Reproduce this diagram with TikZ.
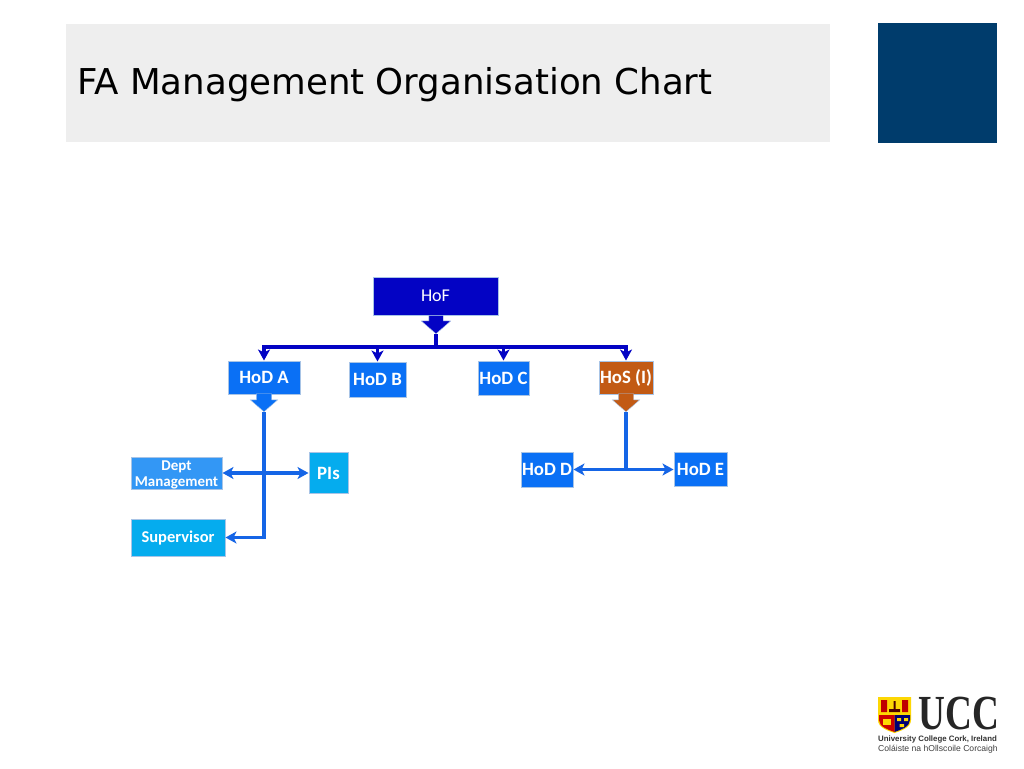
\documentclass[tikz,border=0pt]{standalone}
\usepackage{fontspec}
\setmainfont{DejaVu Sans}
\newfontfamily\boxfont{Carlito}
\newfontfamily\logofont{Liberation Sans}
\newfontfamily\crestfont{Liberation Serif}
\usetikzlibrary{arrows.meta,shapes.arrows}
\definecolor{titlegrey}{HTML}{EEEEEE}
\definecolor{cornerblue}{HTML}{003C6C}
\definecolor{hofblue}{HTML}{0303C4}
\definecolor{hodblue}{HTML}{0A70F5}
\definecolor{deptblue}{HTML}{3397F5}
\definecolor{piblue}{HTML}{05ACEE}
\definecolor{hosbrown}{HTML}{C25A14}
\definecolor{linkblue}{HTML}{1565E6}
\definecolor{boxedge}{HTML}{A8C4E6}
\tikzset{
	orgbox/.style={draw=boxedge, line width=1pt, text=white, inner sep=0pt, font=\boxfont\bfseries\fontsize{18.8}{20}\selectfont},
	stubarrow/.style={single arrow, shape border rotate=270, draw=boxedge, line width=0.4pt, inner sep=0pt, minimum height=18pt, single arrow head extend=6pt, single arrow tip angle=98},
	busline/.style={draw=hofblue, line width=3.2pt},
	linkline/.style={draw=linkblue, line width=3.2pt},
	bustip/.style={-{Stealth[length=11pt,width=12pt,inset=3pt]}},
	linktip/.style={-{Stealth[length=11pt,width=12pt,inset=3pt]}},
}
\begin{document}
\begin{tikzpicture}[x=1pt,y=-1pt]
	\useasboundingbox (0,0) rectangle (1024,768);
	\fill[white] (0,0) rectangle (1024,768);
	% header
	\fill[titlegrey] (66,24) rectangle (830,142);
	\fill[cornerblue] (878,23) rectangle (997,143);
	\node[anchor=base west, inner sep=0pt, font=\fontsize{35.6}{38}\selectfont, text=black] (title) at (77,94.5) {FA Management Organisation Chart};
	% boxes
	\node[orgbox, fill=hofblue, minimum width=125pt, minimum height=38pt, font=\boxfont\fontsize{18}{20}\selectfont] (hof) at (435.5,296) {HoF};
	\node[orgbox, fill=hodblue, minimum width=72pt, minimum height=33pt] (hodA) at (264,377.5) {HoD A};
	\node[orgbox, fill=hodblue, minimum width=57pt, minimum height=35pt] (hodB) at (377.5,379.5) {HoD B};
	\node[orgbox, fill=hodblue, minimum width=51pt, minimum height=34pt] (hodC) at (503.5,378) {HoD C};
	\node[orgbox, fill=hosbrown, minimum width=54pt, minimum height=33pt] (hos) at (626,377.5) {HoS (I)};
	\node[orgbox, fill=deptblue, minimum width=91pt, minimum height=32pt, align=center, text height=29pt, text depth=3pt, font=\boxfont\bfseries\fontsize{15}{16}\selectfont] (dept) at (176.5,473) {Dept\\Management};
	\node[orgbox, fill=piblue, minimum width=39pt, minimum height=41pt] (pis) at (328.5,473) {PIs};
	\node[orgbox, fill=piblue, minimum width=94pt, minimum height=37pt, font=\boxfont\bfseries\fontsize{16.5}{18}\selectfont] (sup) at (178,537.5) {Supervisor};
	\node[orgbox, fill=hodblue, minimum width=52pt, minimum height=35pt] (hodD) at (547,469.5) {HoD D};
	\node[orgbox, fill=hodblue, minimum width=53pt, minimum height=34pt] (hodE) at (700.5,469.5) {HoD E};
	% block arrows
	\node[stubarrow, fill=hofblue, anchor=tip, single arrow head extend=7.5pt] (hofarrow) at (436,334) {\rule{14pt}{0pt}};
	\node[stubarrow, fill=hodblue, anchor=tip] (hodAarrow) at (264,412) {\rule{15pt}{0pt}};
	\node[stubarrow, fill=hosbrown, anchor=tip] (hosarrow) at (626,412) {\rule{15pt}{0pt}};
	% junctions
	\coordinate (bus) at (436,347);
	\coordinate (fork) at (626,469.5);
	% connectors
	\draw[busline] (hofarrow.tip) -- (bus);
	\draw[busline, bustip] (bus) -| (hodA.north);
	\draw[busline, bustip] (bus) -| (hodB.north);
	\draw[busline, bustip] (bus) -| (hodC.north);
	\draw[busline, bustip] (bus) -| (hos.north);
	\draw[linkline, linktip] (hodAarrow.tip) |- (sup.east);
	\draw[linkline, {Stealth[length=11pt,width=12pt,inset=3pt]}-{Stealth[length=11pt,width=12pt,inset=3pt]}] (dept.east) -- (pis.west);
	\draw[linkline] (hosarrow.tip) -- (fork);
	\draw[linkline, linktip] (fork) -- (hodD.east);
	\draw[linkline, linktip] (fork) -- (hodE.west);
	% logo
	\fill[yellow!75!orange] (878,697) -- (911,697) -- (911,720) .. controls (911,728) and (900,731) .. (894.5,733) .. controls (889,731) and (878,728) .. (878,720) -- cycle;
	\fill[red!80!black] (879,715) -- (894.5,715) -- (894.5,732) .. controls (889,730) and (879,727) .. (879,720) -- cycle;
	\fill[blue!45!black] (894.5,715) -- (910,715) -- (910,720) .. controls (910,727) and (900,730) .. (894.5,732) -- cycle;
	\fill[red!75!black] (881,700) rectangle (887,712) (902,700) rectangle (908,712);
	\fill[black!70!red] (889,709) rectangle (900,712) (893.5,701) rectangle (895.5,709);
	\fill[yellow!75!orange] (883,719) rectangle (891,725);
	\fill[yellow!75!orange] (897,718) rectangle (901,721) (904,718) rectangle (908,721) (899.5,724) rectangle (904,727);
	\node[anchor=west, inner sep=0pt, font=\crestfont\bfseries\fontsize{40}{41}\selectfont, text=black!85, xscale=0.93, yscale=1.225] (ucc) at (918.5,714) {UCC};
	\node[anchor=west, inner sep=0pt, font=\logofont\bfseries\fontsize{7.85}{9}\selectfont, text=black!80] (ucceng) at (878,739.5) {University College Cork, Ireland};
	\node[anchor=west, inner sep=0pt, font=\logofont\fontsize{8.6}{9}\selectfont, text=black!75] (uccirl) at (878,749) {Coláiste na hOllscoile Corcaigh};
\end{tikzpicture}
\end{document}
